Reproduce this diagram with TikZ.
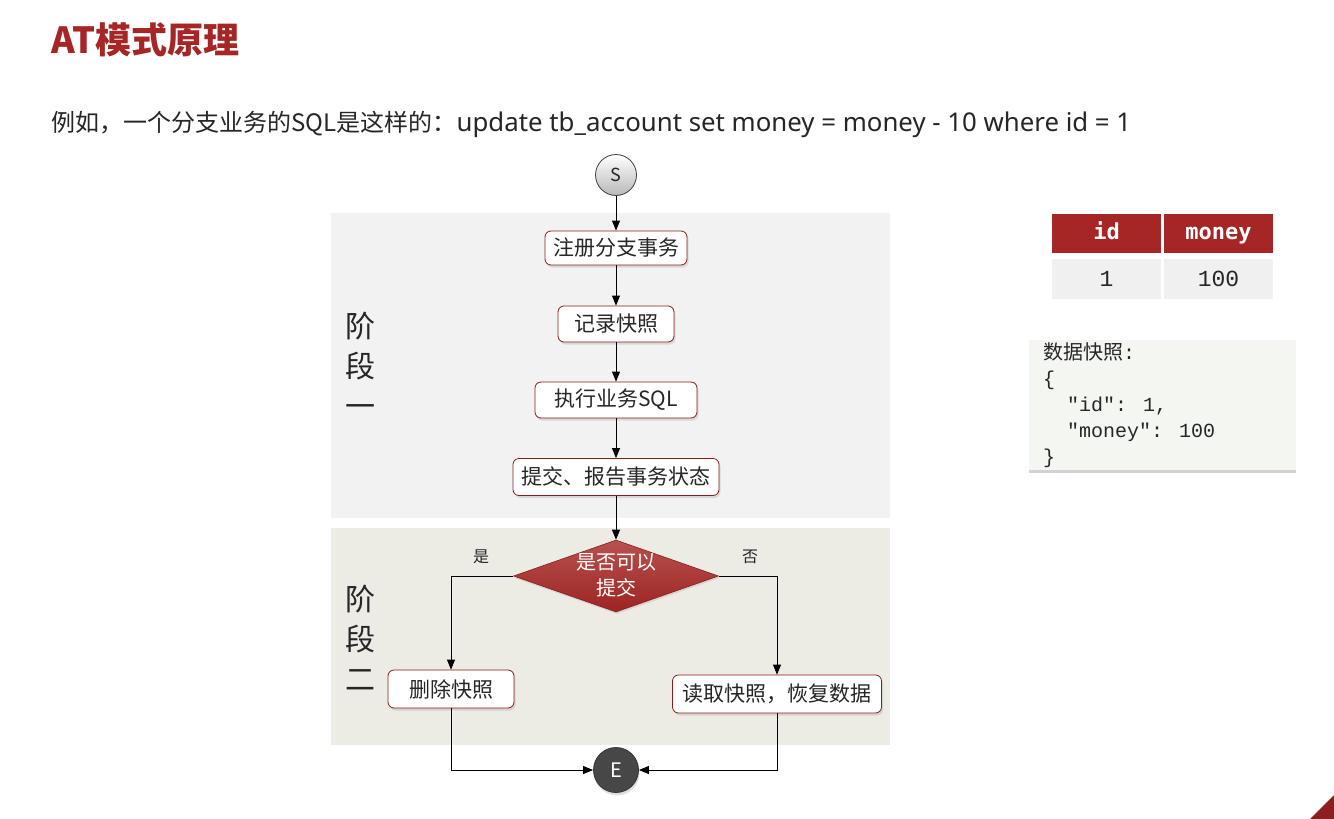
\documentclass[tikz,border=0pt]{standalone}
\usepackage{fontspec}
\setmainfont{Noto Sans CJK SC}
\newfontfamily\latinfont{Noto Sans}
\newfontfamily\monofont{Liberation Mono}
\newfontfamily\monoheadfont{DejaVu Sans Mono}
\usetikzlibrary{shapes.geometric,arrows.meta,shadows}

\definecolor{accent}{HTML}{A52624}
\definecolor{boxedge}{HTML}{8E1B1B}
\definecolor{ink}{HTML}{262626}
\definecolor{stageone}{HTML}{F2F2F2}
\definecolor{stagetwo}{HTML}{ECEBE4}
\definecolor{cellgray}{HTML}{F0F0F0}
\definecolor{notebg}{HTML}{F4F7F1}

\tikzset{
  stepbox/.style={draw=boxedge, line width=0.8pt, fill=white, rounded corners=6pt,
    minimum height=36pt, inner xsep=6pt, text=ink,
    font=\fontsize{21}{24}\selectfont,
    drop shadow={opacity=0.22, shadow xshift=1.5pt, shadow yshift=-2.5pt}},
  flow/.style={-{Triangle[length=10pt,width=8pt]}, line width=0.8pt, black},
  stagetag/.style={align=center, text=ink, font=\fontsize{30}{40}\selectfont},
  branchtag/.style={text=ink, font=\fontsize{16}{18}\selectfont},
  headcell/.style={fill=accent, text=white, minimum width=109pt, minimum height=39pt,
    inner sep=0pt, text height=16pt, text depth=5pt,
    font=\monoheadfont\bfseries\fontsize{22}{26}\selectfont},
  datacell/.style={fill=cellgray, text=ink, minimum width=109pt, minimum height=40pt,
    inner sep=0pt, font=\monofont\fontsize{23}{26}\selectfont},
}

\begin{document}
\begin{tikzpicture}[x=1pt,y=-1pt]
\useasboundingbox (0,0) rectangle (1334,819);
\fill[white] (0,0) rectangle (1334,819);

% heading and lead-in sentence
\node[anchor=west, text=accent, font=\bfseries\fontsize{36}{40}\selectfont] (title) at (48,40) {AT模式原理};
\node[anchor=west, text=ink, font=\fontsize{24}{28}\selectfont] (lead) at (48,124)
  {例如，一个分支业务的SQL是这样的：{\latinfont\fontsize{25.8}{28}\selectfont update tb\_account set money = money - 10 where id = 1}};

% phase backgrounds
\fill[stageone] (331,213) rectangle (890,518);
\fill[stagetwo] (331,528) rectangle (890,745);
\node[stagetag] (phase1) at (360,365) {阶\\段\\一};
\node[stagetag] (phase2) at (360,638) {阶\\段\\二};

% start / end
\node[circle, draw=black!75, line width=0.8pt, minimum size=41pt, inner sep=0pt,
      top color=white, bottom color=black!28, text=ink,
      font=\fontsize{18}{20}\selectfont] (start) at (616,175) {S};
\node[circle, draw=black!80, line width=0.8pt, minimum size=45pt, inner sep=0pt,
      fill=black!72, text=white, font=\fontsize{20}{22}\selectfont,
      drop shadow={opacity=0.25, shadow xshift=1pt, shadow yshift=-3pt}] (finish) at (616,770) {E};

% phase one steps
\node[stepbox, minimum width=142pt, minimum height=34pt] (reg) at (616,248) {注册分支事务};
\node[stepbox, minimum width=116pt] (snap) at (616,324) {记录快照};
\node[stepbox, minimum width=162pt] (exec) at (616,400) {执行业务SQL};
\node[stepbox, minimum width=206pt, minimum height=37pt] (report) at (616,477) {提交、报告事务状态};

% decision
\node[diamond, draw=boxedge, line width=0.6pt, minimum width=205pt, minimum height=72pt,
      inner sep=0pt, top color=accent!80!white, bottom color=accent!95!black,
      drop shadow={opacity=0.2, shadow xshift=1pt, shadow yshift=-2pt}] (check) at (616,576) {};
\node[align=center, text=white, font=\fontsize{20}{26}\selectfont] (checktext) at (616,575) {是否可以\\提交};
\node[branchtag] (yes) at (481,557) {是};
\node[branchtag] (no) at (750,557) {否};

% phase two steps
\node[stepbox, minimum width=126pt, minimum height=38pt] (drop) at (451,689) {删除快照};
\node[stepbox, minimum width=209pt, minimum height=38pt] (restore) at (777,694) {读取快照，恢复数据};

% connectors
\draw[flow] (start) -- (reg);
\draw[flow] (reg) -- (snap);
\draw[flow] (snap) -- (exec);
\draw[flow] (exec) -- (report);
\draw[flow] (report) -- (check.north);
\draw[flow] (check.west) -| (drop.north);
\draw[flow] (check.east) -| (restore.north);
\draw[flow] (drop.south) |- (finish.west);
\draw[flow] (restore.south) |- (finish.east);

% account table
\node[headcell] (hid) at (1106.5,233.5) {id};
\node[headcell] (hmoney) at (1218.5,233.5) {money};
\node[datacell] (vid) at (1106.5,279) {1};
\node[datacell] (vmoney) at (1218.5,279) {100};

% snapshot note
\node[fill=notebg, minimum width=267pt, minimum height=130pt, inner sep=0pt,
      drop shadow={opacity=0.35, shadow xshift=0pt, shadow yshift=-3pt}] (note) at (1162.5,405) {};
\node[anchor=north west, align=left, text=ink, inner sep=0pt,
      font=\monofont\fontsize{20}{26}\selectfont] (notetext) at (1043,342)
  {{\rmfamily 数据快照}:\\\{\\\ \ "id": 1,\\\ \ "money": 100\\\}};

% corner mark
\fill[accent!85!black] (1334,795) -- (1334,819) -- (1310,819) -- cycle;
\end{tikzpicture}
\end{document}
